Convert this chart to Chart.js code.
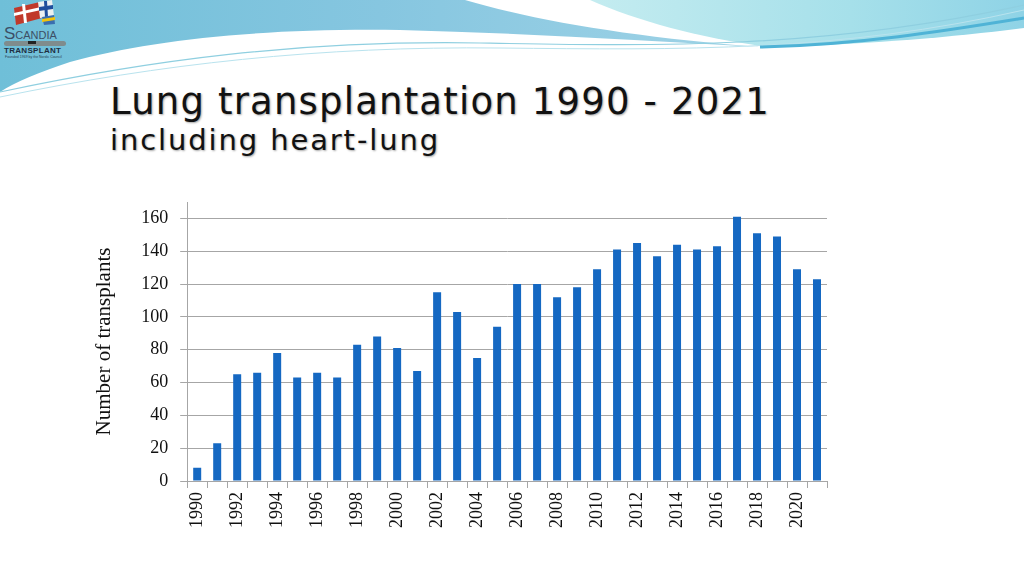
<!DOCTYPE html>
<html>
<head>
<meta charset="utf-8">
<script src="https://cdn.jsdelivr.net/npm/chart.js@4/dist/chart.umd.min.js"></script>
<style>
  html, body { margin: 0; padding: 0; background: #fff; }
  #wrap { position: relative; width: 1024px; height: 576px; overflow: hidden; background: #fff; }
  #deco { position: absolute; left: 0; top: 0; }
  #logo { position: absolute; left: 0px; top: 0px; width: 75px; height: 62px; }
  #logo .s { position: absolute; left: 4px; top: 24px; font: 11px "Liberation Sans", sans-serif; color: #3d4f66; }
  #logo .s b { font-size: 17px; font-weight: normal; }
  #logo .t { position: absolute; left: 4px; top: 46px; font: bold 8px "Liberation Sans", sans-serif; color: #1e2d40; letter-spacing: 0.3px; }
  #logo .u { position: absolute; left: 5px; top: 55px; font: 3.5px "Liberation Sans", sans-serif; color: #2c3e50; white-space: nowrap; }
  .ttl { position: absolute; left: 110px; margin: 0; font-family: "DejaVu Sans", sans-serif; font-weight: 400; color: #111; text-shadow: 1px 1px 2px rgba(0,0,0,0.35); white-space: nowrap; }
  #h1 { top: 80px; font-size: 37px; }
  #h2 { top: 123px; font-size: 29px; }
  #c { position: absolute; left: 0; top: 0; }
</style>
</head>
<body>
<div id="wrap">
  <svg id="deco" width="1024" height="110" viewBox="0 0 1024 110">
    <defs>
      <linearGradient id="g1" x1="0" y1="0" x2="1" y2="0">
        <stop offset="0" stop-color="#6fbfd8"/>
        <stop offset="0.5" stop-color="#86c6e0"/>
        <stop offset="1" stop-color="#9fd3e6"/>
      </linearGradient>
      <linearGradient id="g2" x1="0" y1="0" x2="1" y2="0">
        <stop offset="0" stop-color="#c4ecf0"/>
        <stop offset="0.6" stop-color="#a6e0ea"/>
        <stop offset="1" stop-color="#8fd3e6"/>
      </linearGradient>
    </defs>
    <path d="M0,0 L465,0 C540,22 640,38 760,47 C640,40 520,33 400,30 C260,28 150,40 70,62 C40,72 15,82 0,92 Z" fill="url(#g1)"/>
    <path d="M590,0 L1024,0 L1024,28 C960,36 880,44 770,47 C700,38 640,22 590,0 Z" fill="url(#g2)"/>
    <path d="M0,92 C150,60 300,40 480,43 C650,46 820,50 1024,5" fill="none" stroke="#8fcfe0" stroke-width="1.2"/>
    <path d="M0,97 C160,64 320,46 500,48 C680,50 840,52 1024,10" fill="none" stroke="#b9e3ee" stroke-width="1"/>
    <path d="M760,47 C860,45 950,30 1024,18" fill="none" stroke="#4fb3d6" stroke-width="3"/>
  </svg>
  <div id="logo">
    <svg width="75" height="62" style="position:absolute;left:0;top:0">
      <polygon points="14,8 40,2 42,18 16,25" fill="#c0392b"/>
      <polygon points="14,13 41,7 41,10 14,16" fill="#ffffff"/>
      <polygon points="22,4 25,4 27,23 24,23" fill="#ffffff"/>
      <polygon points="38,2 52,0 54,16 40,18" fill="#ecf0f1"/>
      <polygon points="39,7 53,5 53,9 39,11" fill="#1f4e9c"/>
      <polygon points="44,1 47,1 48,17 45,17" fill="#1f4e9c"/>
      <polygon points="42,17 54,15 55,24 44,25" fill="#3a6fb0"/>
      <polygon points="42,19 55,17 55,20 42,22" fill="#f1c40f"/>
      <rect x="4" y="41" width="62" height="5" rx="2.5" fill="#7f8c8d"/>
      <rect x="28" y="41" width="8" height="3" fill="#222"/>
    </svg>
    <div class="s"><b>S</b>CANDIA</div>
    <div class="t">TRANSPLANT</div>
    <div class="u">Founded 1969 by the Nordic Council</div>
  </div>
  <div class="ttl" id="h1">Lung transplantation 1990 - 2021</div>
  <div class="ttl" id="h2">including heart-lung</div>
  <canvas id="c" width="1024" height="576"></canvas>
</div>
<script>
// fit title widths to the reference layout
[['h1', 660], ['h2', 330]].forEach(([id, w]) => {
  const el = document.getElementById(id);
  const n = el.textContent.length;
  const cur = el.getBoundingClientRect().width;
  el.style.letterSpacing = ((w - cur) / n) + 'px';
});

const years = ['1990','1991','1992','1993','1994','1995','1996','1997','1998','1999',
               '2000','2001','2002','2003','2004','2005','2006','2007','2008','2009',
               '2010','2011','2012','2013','2014','2015','2016','2017','2018','2019',
               '2020','2021'];
const transplants = [8, 23, 65, 66, 78, 63, 66, 63, 83, 88,
                     81, 67, 115, 103, 75, 94, 120, 120, 112, 118,
                     129, 141, 145, 137, 144, 141, 143, 161, 151, 149,
                     129, 123];
const yTickValues = [0, 20, 40, 60, 80, 100, 120, 140, 160];
const yTitle = 'Number of transplants';
const yMax = 170;

const grey = '#a6a6a6';
const serif = '"Liberation Serif", "Times New Roman", serif';
new Chart(document.getElementById('c'), {
  type: 'bar',
  data: {
    labels: years,
    datasets: [{
      data: transplants,
      backgroundColor: '#1568c2',
      borderWidth: 0,
      barPercentage: 0.4,
      categoryPercentage: 1.0
    }]
  },
  options: {
    responsive: false,
    animation: false,
    events: [],
    layout: { padding: { left: 80, right: 197, top: 202, bottom: 44 } },
    plugins: { legend: { display: false }, tooltip: { enabled: false }, title: { display: false } },
    scales: {
      x: {
        grid: { display: true, drawOnChartArea: false, offset: true, color: grey, tickLength: 7 },
        border: { display: true, color: grey },
        ticks: {
          autoSkip: false, maxRotation: 90, minRotation: 90,
          color: '#111', padding: 4,
          font: { family: serif, size: 18 },
          callback: (v, i) => (i % 2 === 0 ? years[i] : '')
        }
      },
      y: {
        min: 0, max: yMax,
        afterBuildTicks: axis => { axis.ticks = yTickValues.map(v => ({ value: v })); },
        ticks: { color: '#111', padding: 12, font: { family: serif, size: 18 } },
        grid: { color: grey, tickLength: 7 },
        border: { display: true, color: grey },
        title: { display: true, text: yTitle, color: '#111', padding: { top: 12, bottom: 12 }, font: { family: serif, size: 21 } }
      }
    }
  }
});
</script>
</body>
</html>
